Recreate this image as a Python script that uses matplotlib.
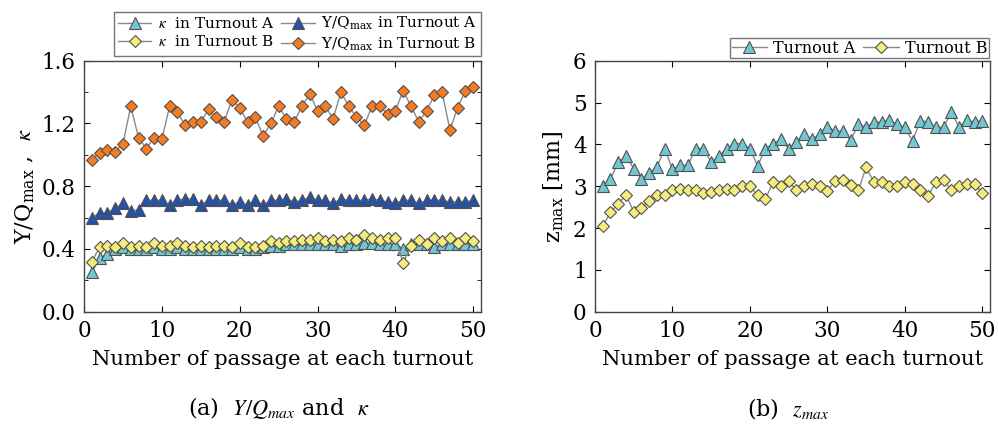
import numpy as np
import matplotlib
matplotlib.use("Agg")
from matplotlib import pyplot as plt

plt.rcParams['font.family'] = ['DejaVu Serif']
plt.rcParams['mathtext.fontset'] = 'stix'

passes = np.arange(1, 51)

# (a) kappa and Y/Qmax
kappa_A = [0.25, 0.34, 0.37, 0.40, 0.41, 0.40, 0.40, 0.40, 0.41, 0.40,
           0.40, 0.41, 0.40, 0.40, 0.40, 0.40, 0.40, 0.40, 0.40, 0.41,
           0.40, 0.40, 0.41, 0.42, 0.42, 0.43, 0.43, 0.43, 0.43, 0.43,
           0.43, 0.43, 0.42, 0.43, 0.43, 0.44, 0.44, 0.43, 0.43, 0.43,
           0.40, 0.43, 0.43, 0.43, 0.41, 0.43, 0.43, 0.43, 0.43, 0.43]
yq_A = [0.60, 0.63, 0.63, 0.66, 0.69, 0.64, 0.65, 0.71, 0.71, 0.71,
        0.68, 0.71, 0.72, 0.72, 0.68, 0.71, 0.71, 0.71, 0.68, 0.70,
        0.68, 0.71, 0.68, 0.71, 0.71, 0.72, 0.70, 0.71, 0.73, 0.71,
        0.71, 0.69, 0.72, 0.71, 0.71, 0.71, 0.72, 0.71, 0.70, 0.69,
        0.71, 0.71, 0.69, 0.71, 0.71, 0.71, 0.70, 0.70, 0.70, 0.71]
kappa_B = [0.32, 0.41, 0.42, 0.41, 0.44, 0.41, 0.42, 0.41, 0.44, 0.42,
           0.42, 0.44, 0.42, 0.41, 0.42, 0.41, 0.42, 0.42, 0.41, 0.44,
           0.41, 0.41, 0.42, 0.45, 0.44, 0.45, 0.45, 0.46, 0.46, 0.47,
           0.45, 0.46, 0.45, 0.47, 0.46, 0.49, 0.47, 0.46, 0.47, 0.47,
           0.31, 0.42, 0.46, 0.43, 0.47, 0.45, 0.47, 0.44, 0.47, 0.45]
yq_B = [0.97, 1.01, 1.03, 1.02, 1.07, 1.31, 1.11, 1.04, 1.11, 1.10,
        1.31, 1.27, 1.19, 1.21, 1.21, 1.29, 1.24, 1.21, 1.35, 1.30,
        1.21, 1.24, 1.12, 1.20, 1.31, 1.23, 1.21, 1.31, 1.39, 1.28,
        1.31, 1.23, 1.40, 1.31, 1.24, 1.19, 1.31, 1.31, 1.26, 1.28,
        1.41, 1.31, 1.21, 1.28, 1.38, 1.40, 1.16, 1.30, 1.41, 1.43]

# (b) zmax [mm]
z_A = [3.00, 3.17, 3.57, 3.72, 3.42, 3.17, 3.32, 3.46, 3.90, 3.40,
       3.50, 3.50, 3.90, 3.90, 3.57, 3.72, 3.90, 4.02, 4.02, 3.90,
       3.48, 3.90, 4.02, 4.12, 3.90, 4.06, 4.24, 4.12, 4.24, 4.42,
       4.32, 4.32, 4.10, 4.48, 4.41, 4.53, 4.53, 4.58, 4.48, 4.41,
       4.08, 4.57, 4.53, 4.41, 4.41, 4.77, 4.41, 4.58, 4.53, 4.57]
z_B = [2.04, 2.38, 2.58, 2.80, 2.38, 2.48, 2.65, 2.78, 2.78, 2.90,
       2.94, 2.90, 2.90, 2.84, 2.86, 2.90, 2.94, 2.90, 3.00, 3.00,
       2.78, 2.69, 3.10, 3.00, 3.12, 2.90, 3.00, 3.05, 3.00, 2.89,
       3.12, 3.16, 3.02, 2.90, 3.45, 3.10, 3.10, 3.00, 3.00, 3.10,
       3.05, 2.90, 2.76, 3.10, 3.16, 2.90, 3.00, 3.05, 3.05, 2.84]

c_cyan = '#72c8d2'
c_blue = '#2352aa'
c_yellow = '#f4ec7c'
c_orange = '#f47b22'
edge = '#505050'
line = '#8a8a8a'


def series(ax, y, marker, color, label, ms):
    ax.plot(passes, y, color=line, lw=1.0, marker=marker, ms=ms,
            mfc=color, mec=edge, mew=0.8, label=label)


def style_axes(ax):
    ax.tick_params(direction='in', top=True, right=True, labelsize=15.5,
                   length=4, width=0.8, pad=6)
    for s in ax.spines.values():
        s.set_linewidth(1.0)
        s.set_color('#444444')
    ax.set_xlim(0, 51)
    ax.set_xticks([0, 10, 20, 30, 40, 50])
    ax.set_xlabel('Number of passage at each turnout', fontsize=15.2,
                  labelpad=6)


fig = plt.figure(figsize=(9.98, 4.26), dpi=100)
ax1 = fig.add_axes([0.0842, 0.2683, 0.3978, 0.5892])
ax2 = fig.add_axes([0.5962, 0.2683, 0.3958, 0.5892])

series(ax1, kappa_A, '^', c_cyan, r'$\kappa$  in Turnout A', 8)
series(ax1, yq_A, '^', c_blue, r'Y/Q$_{\mathregular{max}}$ in Turnout A', 8)
series(ax1, kappa_B, 'D', c_yellow, r'$\kappa$  in Turnout B', 6.5)
series(ax1, yq_B, 'D', c_orange, r'Y/Q$_{\mathregular{max}}$ in Turnout B', 6.5)
style_axes(ax1)
ax1.set_ylim(0, 1.6)
ax1.set_yticks([0.0, 0.4, 0.8, 1.2, 1.6])
ax1.set_yticks([0.2, 0.6, 1.0, 1.4], minor=True)
ax1.tick_params(which='minor', direction='in', right=True, length=3)
ax1.yaxis.set_major_formatter(matplotlib.ticker.FormatStrFormatter('%.1f'))
ax1.set_ylabel(r'Y/Q$_{\mathregular{max}}$ ,  $\kappa$', fontsize=16,
               labelpad=4)
h, l = ax1.get_legend_handles_labels()
ax1.legend([h[0], h[2], h[1], h[3]], [l[0], l[2], l[1], l[3]], ncol=2,
           loc='upper right', bbox_to_anchor=(0.482, 0.973),
           bbox_transform=fig.transFigure, fontsize=11, frameon=True,
           fancybox=False, edgecolor='#555555', handlelength=2.2,
           handletextpad=0.4, columnspacing=0.5, borderpad=0.25,
           labelspacing=0.2, borderaxespad=0)

series(ax2, z_A, '^', c_cyan, 'Turnout A', 8)
series(ax2, z_B, 'D', c_yellow, 'Turnout B', 6.5)
style_axes(ax2)
ax2.set_ylim(0, 6)
ax2.set_yticks([0, 1, 2, 3, 4, 5, 6])
ax2.set_ylabel(r'z$_{\mathregular{max}}$ [mm]', fontsize=16, labelpad=6)
ax2.legend(ncol=2, loc='upper right', bbox_to_anchor=(0.991, 0.911),
           bbox_transform=fig.transFigure, fontsize=11.5, frameon=True,
           fancybox=False, edgecolor='#555555', handlelength=2.2,
           handletextpad=0.4, columnspacing=0.5, borderpad=0.1,
           borderaxespad=0)

fig.text(0.279, 0.042, r'(a)  $Y/Q_{max}$ and  $\kappa$', ha='center',
         va='center', fontsize=16)
fig.text(0.79, 0.042, r'(b)  $z_{max}$', ha='center', va='center',
         fontsize=16)

fig.savefig('out.png', dpi=100)
